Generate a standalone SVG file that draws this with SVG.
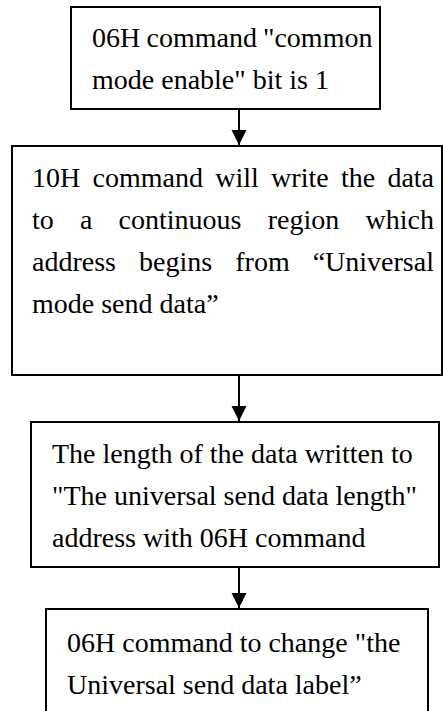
<svg xmlns="http://www.w3.org/2000/svg" width="443" height="711" viewBox="0 0 443 711">
<style>
.box{fill:#fff;stroke:#000;stroke-width:2}
.ln{stroke:#000;stroke-width:2;fill:none}
</style>
<defs>
<marker id="ah" markerWidth="16" markerHeight="16" refX="15" refY="7.5" orient="auto" markerUnits="userSpaceOnUse">
<path d="M0,0 L15,7.5 L0,15 Z" fill="#000"/>
</marker>
</defs>
<rect width="443" height="711" fill="#fff"/>
<g font-family="Liberation Serif, Times New Roman, serif" font-size="28" fill="#000">
<g id="n1">
<rect class="box" x="71" y="7" width="309" height="102"/>
<text y="46.5"><tspan x="92">06H</tspan><tspan x="146.5">command</tspan><tspan x="263">"common</tspan></text>
<text x="92" y="88.5">mode enable" bit is 1</text>
</g>
<g id="n2">
<rect class="box" x="12" y="146" width="430" height="229"/>
<text y="187"><tspan x="32">10H</tspan><tspan x="92.5">command</tspan><tspan x="215.2">will</tspan><tspan x="271.1">write</tspan><tspan x="340.9">the</tspan><tspan x="387.4">data</tspan></text>
<text y="229"><tspan x="32">to</tspan><tspan x="80">a</tspan><tspan x="118.6">continuous</tspan><tspan x="267.7">region</tspan><tspan x="365.6">which</tspan></text>
<text y="271"><tspan x="32">address</tspan><tspan x="139.1">begins</tspan><tspan x="235.3">from</tspan><tspan x="312.7">“Universal</tspan></text>
<text x="32" y="313">mode send data”</text>
</g>
<g id="n3">
<rect class="box" x="31" y="422" width="408" height="145"/>
<text x="52" y="463">The length of the data written to</text>
<text x="52" y="505">"The universal send data length"</text>
<text x="52" y="547">address with 06H command</text>
</g>
<g id="n4">
<rect class="box" x="46" y="609" width="382" height="120"/>
<text x="67" y="652">06H command to change "the</text>
<text x="67" y="694">Universal send data label”</text>
</g>
</g>
<g id="connectors">
<line class="ln" x1="239" y1="110" x2="239" y2="145" marker-end="url(#ah)"/>
<line class="ln" x1="239" y1="376" x2="239" y2="421" marker-end="url(#ah)"/>
<line class="ln" x1="239" y1="568" x2="239" y2="608" marker-end="url(#ah)"/>
</g>
</svg>
